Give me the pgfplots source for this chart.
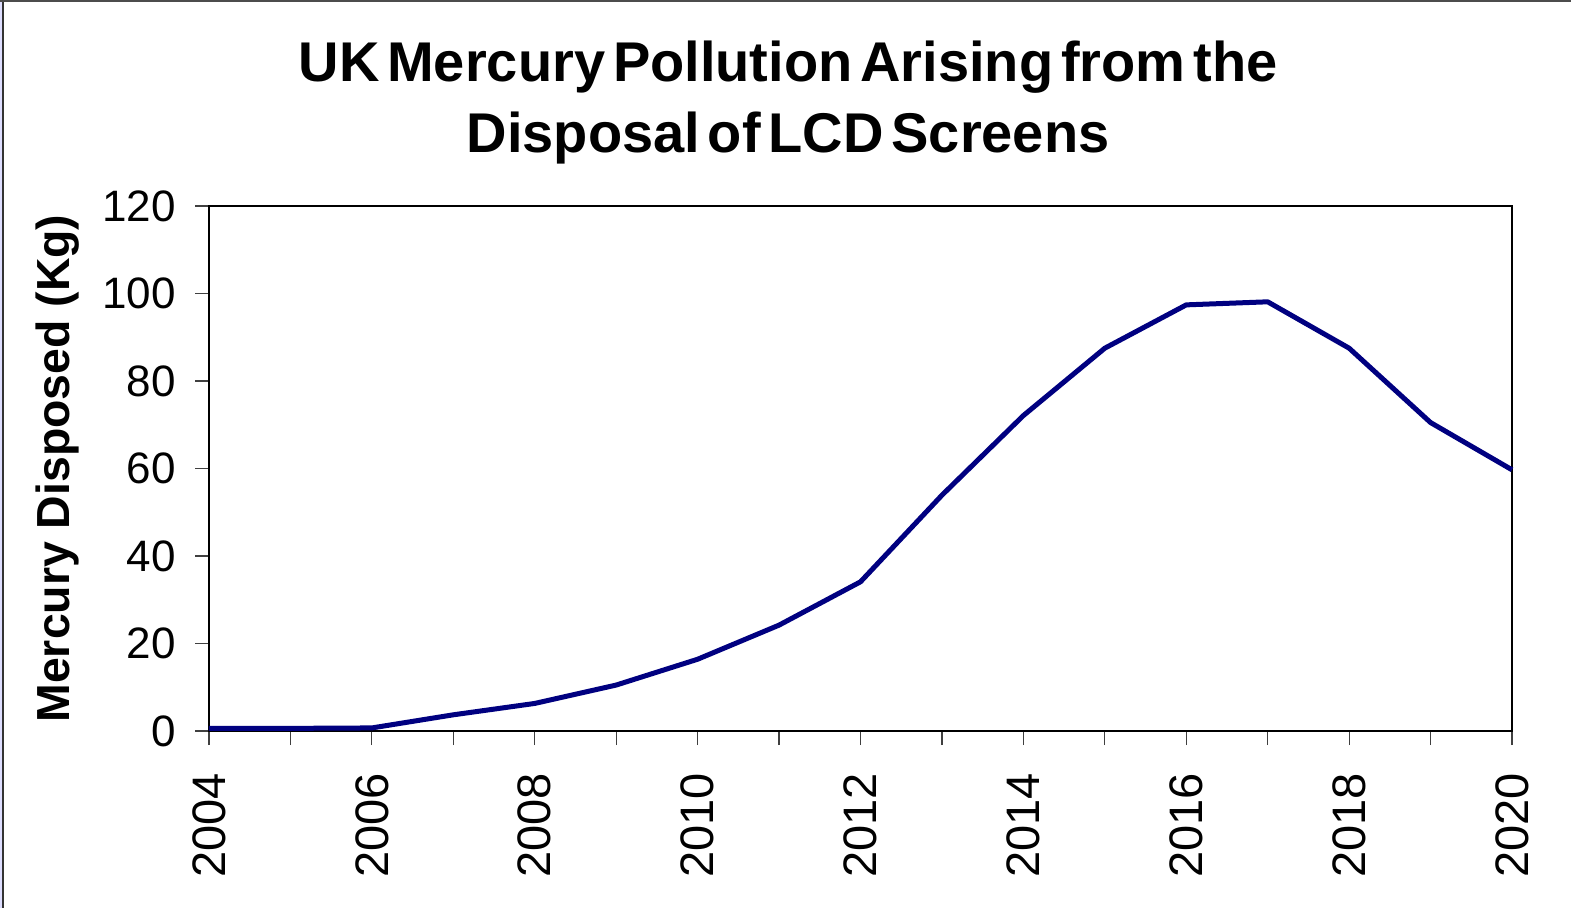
\documentclass[border=0pt]{standalone}
\usepackage{pgfplots}
\pgfplotsset{compat=1.18}
\usepackage{fontspec}
\setmainfont{Liberation Sans}
\definecolor{navyline}{RGB}{0,0,128}
\definecolor{stripblue}{RGB}{222,222,255}
\newcommand{\tsp}{\hspace{0.14em}}
\begin{document}
\begin{tikzpicture}
\path[use as bounding box] (-104.5bp,-88.5bp) rectangle (681bp,365.5bp);
\fill[stripblue] (-104.5bp,-88.5bp) rectangle (-103bp,365.5bp);
\draw[black!80, line width=0.6bp] (-103bp,-88.5bp) -- (-103bp,364.8bp);
\draw[black!70, line width=1bp] (-104.5bp,364.9bp) -- (681bp,364.9bp);
\begin{axis}[
  scale only axis,
  width=651.5bp, height=262.5bp,
  xmin=2004, xmax=2020, ymin=0, ymax=120,
  xtick={2004,2006,...,2020},
  minor xtick={2005,2007,...,2019},
  ytick={0,20,...,120},
  tick align=outside,
  tick pos=left,
  major tick length=7bp,
  minor tick length=7bp,
  every tick/.style={black!75, line width=0.6bp},
  axis line style={black, line width=0.7bp},
  clip=false,
  /pgf/number format/.cd, 1000 sep={}, assume math mode=true,
  /pgfplots/.cd,
  xticklabel style={font=\fontsize{23.5bp}{27bp}\selectfont, rotate=90, anchor=east, inner sep=0pt},
  yticklabel style={font=\fontsize{22bp}{26bp}\selectfont, anchor=east, inner sep=0pt},
  xticklabel shift=14bp,
  yticklabel shift=9.5bp,
  title={UK\tsp Mercury\tsp Pollution\tsp Arising\tsp from\tsp the\\Disposal\tsp of\tsp LCD\tsp Screens},
  title style={at={(axis description cs:0.4444,1.2924)}, anchor=north, inner sep=0pt, align=center,
    font=\fontsize{28bp}{35.5bp}\selectfont\bfseries},
  ylabel={Mercury Disposed (Kg)},
  ylabel style={at={(axis description cs:-0.1159,0.5)}, anchor=center, inner sep=0pt,
    font=\fontsize{23.2bp}{27bp}\selectfont\bfseries},
]
\addplot[navyline, line width=2.5bp, line join=round, mark=none] coordinates {
(2004,0.6) (2005,0.6) (2006,0.7) (2007,3.7) (2008,6.3) (2009,10.5) (2010,16.4)
(2011,24.2) (2012,34.1) (2013,53.9) (2014,72.1) (2015,87.5) (2016,97.4)
(2017,98.1) (2018,87.5) (2019,70.5) (2020,59.7)
};
\end{axis}
\end{tikzpicture}
\end{document}
